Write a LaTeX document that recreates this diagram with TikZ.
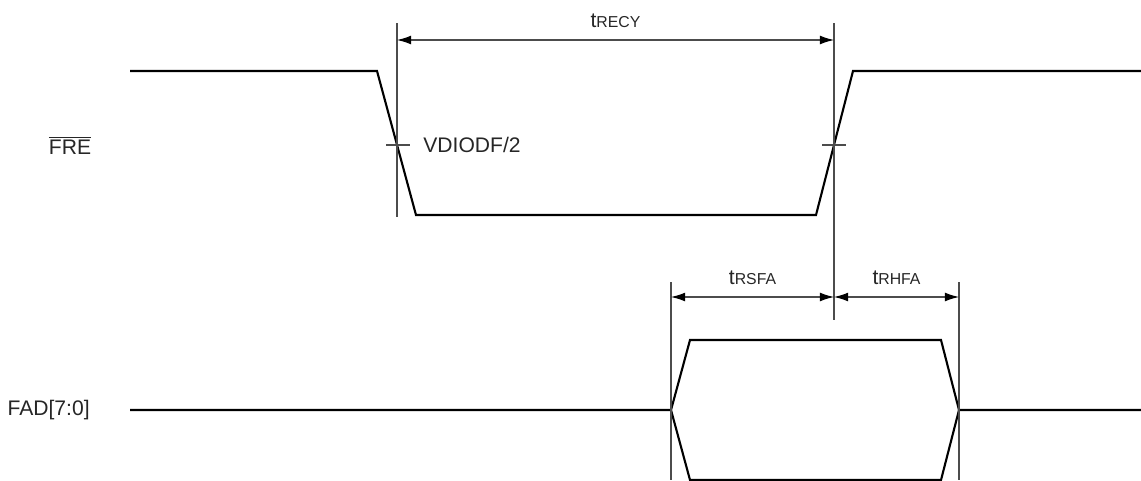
\documentclass[tikz,border=0pt]{standalone}
\usepackage{fontspec}
\setmainfont{Liberation Sans}
\usetikzlibrary{
    arrows.meta,
    positioning
}
\newcommand{\tsub}[1]{t{\fontsize{9}{10}\selectfont #1}}

\begin{document}
\begin{tikzpicture}[
    x=0.02cm, y=-0.02cm,
    >={Latex[length=8pt,width=5pt,black]},
    wave/.style={line width=1.2pt, black},
    dimline/.style={line width=0.6pt, black!70},
    lbl/.style={font=\fontsize{12}{14}\selectfont, text=black!85, inner sep=0pt}
]
\useasboundingbox (0,0) rectangle (1141,480);

% FRE waveform
\coordinate (R0) at (130,71);
\coordinate (R1) at (377,71);
\coordinate (R2) at (416,215);
\coordinate (R3) at (816,215);
\coordinate (R4) at (853,71);
\coordinate (R5) at (1141,71);

\draw[wave] (R0) -- (R1) -- (R2) -- (R3) -- (R4) -- (R5);

% FAD waveform
\coordinate (A0) at (130,410);
\coordinate (A1) at (671,410);
\coordinate (A2) at (690,340);
\coordinate (A3) at (941,340);
\coordinate (A4) at (959,410);
\coordinate (A5) at (1141,410);
\coordinate (A6) at (941,480);
\coordinate (A7) at (690,480);

\draw[wave] (A0) -- (A1) -- (A2) -- (A3) -- (A4) -- (A5);
\draw[wave] (A1) -- (A7) -- (A6) -- (A4);

% reference lines
\coordinate (L0) at (397,23);
\coordinate (L1) at (397,217);
\coordinate (M0) at (834,23);
\coordinate (M1) at (834,320);
\coordinate (P0) at (671,282);
\coordinate (P1) at (671,480);
\coordinate (Q0) at (959,282);
\coordinate (Q1) at (959,480);

\draw[dimline] (L0) -- (L1);
\draw[dimline] (M0) -- (M1);
\draw[dimline] (P0) -- (P1);
\draw[dimline] (Q0) -- (Q1);

% level ticks
\draw[dimline] (386,145) coordinate (T0) -- (410,145) coordinate (T1);
\draw[dimline] (822,145) coordinate (T2) -- (846,145) coordinate (T3);

% timing arrows
\draw[dimline, <->] (397,40) coordinate (D0) -- (834,40) coordinate (D1)
    node[lbl, midway, above=7pt] (trecy) {\tsub{RECY}};
\draw[dimline, <->] (671,297) coordinate (D2) -- (834,297) coordinate (D3)
    node[lbl, midway, above=7pt] (trsfa) {\tsub{RSFA}};
\draw[dimline, <->] (834,297) coordinate (D4) -- (959,297) coordinate (D5)
    node[lbl, midway, above=7pt] (trhfa) {\tsub{RHFA}};

% labels
\node[lbl, anchor=west] (vref) at (423,145) {VDIODF/2};
\node[lbl] (fre) at (70,145) {$\overline{\mbox{FRE}}$};
\node[lbl, anchor=east] (fad) at (90,410) {FAD[7:0]};

\end{tikzpicture}
\end{document}
